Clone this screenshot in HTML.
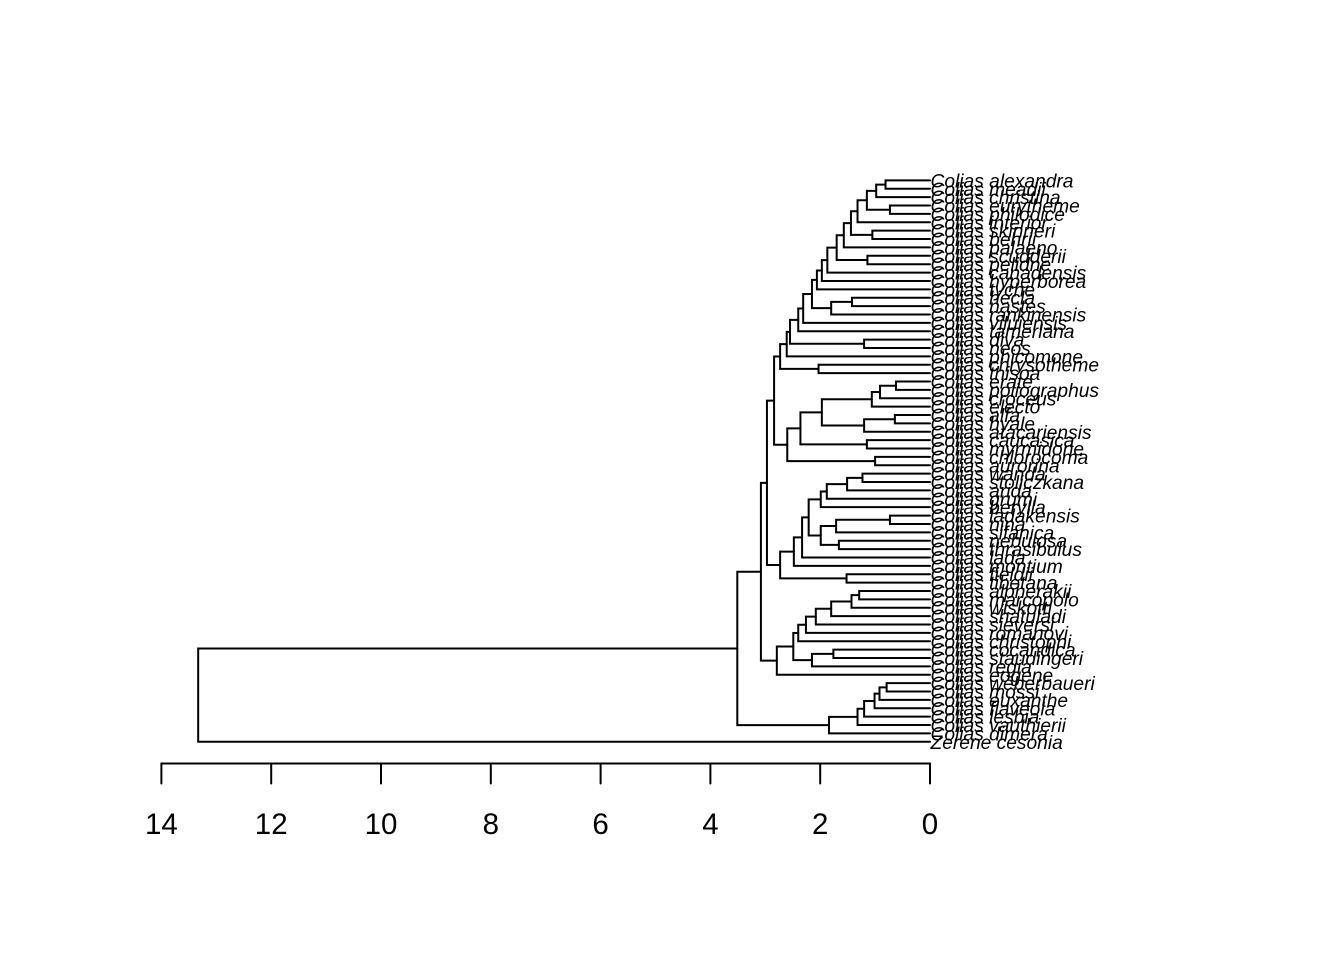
<!DOCTYPE html>
<html lang="en">
<head>
<meta charset="utf-8">
<title>Colias dendrogram</title>
<style>
  html, body { margin: 0; padding: 0; background: #fff; }
  svg { display: block; }
  .leaf { font-family: "Liberation Sans", sans-serif; font-style: italic; font-size: 19.2px; fill: #000; }
  .tick-text { font-family: "Liberation Sans", sans-serif; font-size: 29.5px; fill: #000; text-anchor: middle; }
  .ln { fill: none; stroke: #000; stroke-width: 2; stroke-linecap: round; }
</style>
</head>
<body>
<svg id="chart" xmlns="http://www.w3.org/2000/svg" width="1344" height="960" viewBox="0 0 1344 960">
  <g id="tree"></g>
  <g id="labels"></g>
  <g id="axis"></g>
</svg>
<script>
// Leaf labels, top to bottom
const species = ["Colias alexandra","Colias meadii","Colias christina","Colias eurytheme","Colias philodice","Colias interior","Colias skinneri","Colias behrii","Colias palaeno","Colias scudderii","Colias pelidne","Colias canadensis","Colias hyperborea","Colias tyche","Colias hecla","Colias nastes","Colias rankinensis","Colias viluiensis","Colias tamerlana","Colias diva","Colias neos","Colias phicomone","Colias chrysotheme","Colias thisoa","Colias erate","Colias poliographus","Colias croceus","Colias electo","Colias alfa","Colias hyale","Colias atacariensis","Colias caucasica","Colias myrmidone","Colias chlorocoma","Colias aurorina","Colias wanda","Colias stoliczkana","Colias arida","Colias grumi","Colias berylla","Colias ladakensis","Colias nina","Colias sifanica","Colias nebulosa","Colias thrasibulus","Colias lada","Colias montium","Colias fieldii","Colias tibetana","Colias alpherakii","Colias marcopolo","Colias wiskotti","Colias shatuladi","Colias sieversi","Colias romanovi","Colias christophi","Colias cocandica","Colias staudingeri","Colias regia","Colias eogene","Colias weberbaueri","Colias mossi","Colias euxanthe","Colias flaveola","Colias lesbia","Colias vauthierii","Colias dimera","Zerene cesonia"];

// Merges, hclust style: negative = leaf number, positive = earlier merge number
const mergeLeft = [-1,1,-4,2,4,-7,5,7,-10,8,10,11,12,-15,14,13,16,17,-20,18,20,-23,21,-25,24,25,-29,27,26,-32,29,-34,31,23,-36,35,36,37,-41,39,-44,40,38,43,44,-48,45,34,-50,49,50,51,52,53,-57,55,54,57,48,-61,60,61,62,63,64,59,66];
const mergeRight = [-2,-3,-5,3,-6,-8,6,-9,-11,9,-12,-13,-14,-16,-17,15,-18,-19,-21,19,-22,-24,22,-26,-27,-28,-30,-31,28,-33,30,-35,32,33,-37,-38,-39,-40,-42,-43,-45,41,42,-46,-47,-49,46,47,-51,-52,-53,-54,-55,-56,-58,-59,56,-60,58,-62,-63,-64,-65,-66,-67,65,-68];

// Height of each merge
const mergeHeights = [0.81,0.98,0.73,1.15,1.32,1.05,1.44,1.57,1.14,1.70,1.87,1.97,2.06,1.42,1.80,2.15,2.31,2.40,1.20,2.55,2.61,2.03,2.73,0.62,0.91,1.06,0.64,1.20,1.97,1.15,2.36,1.00,2.60,2.84,1.23,1.51,1.88,1.99,0.73,1.71,1.66,1.99,2.21,2.33,2.48,1.52,2.73,2.97,1.29,1.43,1.80,2.08,2.26,2.40,1.76,2.15,2.49,2.79,3.08,0.79,0.92,1.01,1.20,1.32,1.84,3.51,13.33];

// Axis tick labels
const axisTicks = [14,12,10,8,6,4,2,0];

const NS = "http://www.w3.org/2000/svg";
const xScale = h => 930 - h * 54.9;
const yScale = i => 180.4 + i * (741.8 - 180.4) / (species.length - 1);

const tree = document.getElementById("tree");
const labels = document.getElementById("labels");
const axis = document.getElementById("axis");

species.forEach((name, i) => {
  const t = document.createElementNS(NS, "text");
  t.setAttribute("class", "leaf");
  t.setAttribute("x", 930.5);
  t.setAttribute("y", yScale(i) + 7);
  
  
  t.textContent = name;
  labels.appendChild(t);
});

const nodes = [];
function resolve(ref) {
  if (ref < 0) return { y: yScale(-ref - 1), h: 0 };
  return nodes[ref - 1];
}
mergeHeights.forEach((h, k) => {
  const a = resolve(mergeLeft[k]);
  const b = resolve(mergeRight[k]);
  const p = document.createElementNS(NS, "path");
  p.setAttribute("class", "ln");
  p.setAttribute("d", "M" + xScale(a.h) + " " + a.y + "H" + xScale(h) + "V" + b.y + "H" + xScale(b.h));
  
  
  tree.appendChild(p);
  nodes.push({ y: (a.y + b.y) / 2, h: h });
});

const axisLine = document.createElementNS(NS, "line");
axisLine.setAttribute("class", "ln");
axisLine.setAttribute("x1", xScale(axisTicks[0]));
axisLine.setAttribute("x2", xScale(axisTicks[axisTicks.length - 1]));
axisLine.setAttribute("y1", 763.5);
axisLine.setAttribute("y2", 763.5);


axis.appendChild(axisLine);

axisTicks.forEach(v => {
  const m = document.createElementNS(NS, "line");
  m.setAttribute("class", "ln");
  m.setAttribute("x1", xScale(v));
  m.setAttribute("x2", xScale(v));
  m.setAttribute("y1", 763.5);
  m.setAttribute("y2", 783.5);
  
  
  axis.appendChild(m);
  const t = document.createElementNS(NS, "text");
  t.setAttribute("class", "tick-text");
  t.setAttribute("x", xScale(v));
  t.setAttribute("y", 834);
  
  
  t.textContent = v;
  axis.appendChild(t);
});
</script>
</body>
</html>
